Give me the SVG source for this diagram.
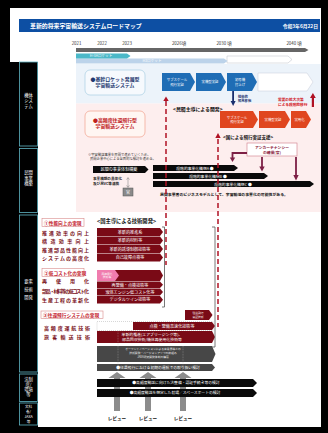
<svg xmlns="http://www.w3.org/2000/svg" width="328" height="433" viewBox="0 0 328 433">
  <style>
    text { font-family: "Noto Sans CJK JP", "Noto Sans", sans-serif; }
    .w { fill: #fff; }
    .b { font-weight: bold; }
    .lbl { fill: #fff; font-size: 4.3px; text-anchor: middle; }
    .lbox { fill: #000; stroke: #5fb3c2; stroke-width: 0.8; }
    .blue { fill: #1f6db5; }
    .red { fill: #e0461f; }
    .dred { fill: #7a0a16; }
    .gray { fill: #474747; }
    .blk { fill: #0a0a0a; }
    .chev { fill: #fff; font-size: 3.4px; text-anchor: middle; }
    .bar { fill: #fff; font-size: 4.1px; text-anchor: middle; }
    .row { fill: #7a1020; font-size: 5px; font-weight: bold; }
    .tag { fill: #fff; stroke: #d98a8a; stroke-width: 0.6; }
    .tagt { fill: #c4202c; font-size: 4.7px; font-weight: bold; }
    .dash { fill: none; stroke: #b01224; stroke-width: 1.5; stroke-dasharray: 5 3; }
    .brk { fill: none; stroke: #555; stroke-width: 0.8; }
    .mar { fill: #7d1f45; }
    .up { fill: #8c8c8c; }
  </style>

  <!-- frame and page -->
  <rect x="0" y="0" width="328" height="433" fill="#000"/>
  <rect x="10" y="8" width="311" height="419" fill="#fff"/>
  <rect x="10" y="62" width="28" height="365" fill="#000"/>

  <!-- title bar -->
  <g id="header">
    <rect x="19" y="19" width="301" height="13" fill="#0d4fa3"/>
    <text x="30" y="28.3" class="w b" font-size="5.9">革新的将来宇宙輸送システムロードマップ</text>
    <text x="318" y="27.8" class="w b" font-size="4.8" text-anchor="end">令和3年6月22日</text>
  </g>

  <!-- years and timeline -->
  <g id="timeline" font-size="4.4" fill="#333" text-anchor="middle">
    <text x="76.5" y="45">2021</text>
    <text x="102" y="45">2022</text>
    <text x="127" y="45">2023</text>
    <text x="179" y="45">2026頃</text>
    <text x="224" y="45">2030 頃</text>
    <text x="294" y="45">2040 頃</text>
    <polygon points="76,48 305,48 308.5,50 305,52 76,52" fill="#666"/>
  </g>

  <!-- launcher bars -->
  <g id="launchers">
    <polygon points="227,56 288,56 292,59.5 288,63 227,63" fill="#fff" stroke="#b8bcc6" stroke-width="0.5"/>
    <polygon points="76,58.5 224,58.5 227.5,61 224,63.5 76,63.5" fill="#bcd3ea"/>
    <text x="152" y="62.3" class="w" font-size="3.6" text-anchor="middle">H3ロケット</text>
    <polygon points="76,53.5 127,53.5 130.5,56 127,58.5 76,58.5" fill="#4bb8c8"/>
    <text x="101" y="57.3" class="w" font-size="3.6" text-anchor="middle">H-IIAロケット</text>
  </g>

  <!-- section backgrounds -->
  <rect x="76" y="64" width="245" height="39.5" fill="#ecf3fa"/>
  <rect x="76" y="103.5" width="245" height="108.5" fill="#fdeeee"/>

  <!-- side labels -->
  <g id="label-vehicle">
    <rect x="19.5" y="62" width="18" height="84" class="lbox"/>
    <text class="lbl"><tspan x="28.5" y="96.5">機体</tspan><tspan x="28.5" y="102">シス</tspan><tspan x="28.5" y="107.5">テム</tspan></text>
  </g>
  <g id="label-business">
    <rect x="19.5" y="148.5" width="18" height="64" class="lbox"/>
    <text class="lbl"><tspan x="28.5" y="174">民間</tspan><tspan x="28.5" y="179.5">事業</tspan><tspan x="28.5" y="185">構築</tspan></text>
  </g>
  <g id="label-tech">
    <rect x="19.5" y="215" width="18" height="157" class="lbox"/>
    <text class="lbl"><tspan x="28.5" y="283">要素</tspan><tspan x="28.5" y="291">技術</tspan><tspan x="28.5" y="299">開発</tspan></text>
  </g>
  <g id="label-law">
    <rect x="19.5" y="374" width="18" height="27.5" class="lbox"/>
    <text class="lbl" font-size="4"><tspan x="28.5" y="381">法制</tspan><tspan x="28.5" y="386">度/</tspan><tspan x="28.5" y="391">環境</tspan><tspan x="28.5" y="396">等</tspan></text>
  </g>
  <g id="label-mext">
    <rect x="19.5" y="403" width="18" height="22" class="lbox"/>
    <text class="lbl" style="font-size:3.6px"><tspan x="28.5" y="408">文科</tspan><tspan x="28.5" y="413">省/</tspan><tspan x="28.5" y="418">JAXA</tspan><tspan x="28.5" y="423">等</tspan></text>
  </g>

  <!-- vehicle system concepts -->
  <g id="concept-expendable">
    <rect x="85" y="70" width="60" height="25" rx="5" fill="#f6f9fd" stroke="#a9cfe2" stroke-width="0.7"/>
    <text fill="#1f3870" font-size="4.9" class="b" text-anchor="middle"><tspan x="115" y="80.5">●基幹ロケット発展型</tspan><tspan x="115" y="86.7">宇宙輸送システム</tspan></text>
  </g>
  <g id="concept-reusable">
    <rect x="85" y="111" width="60" height="26" rx="5" fill="#fff6f2" stroke="#f0a08c" stroke-width="0.7"/>
    <text fill="#c0201c" font-size="4.9" class="b" text-anchor="middle"><tspan x="115" y="121.7">●高頻度往還飛行型</tspan><tspan x="115" y="127.9">宇宙輸送システム</tspan></text>
  </g>

  <!-- expendable line milestones -->
  <g id="blue-steps">
    <polygon points="162,73 190,73 195,82 190,91 162,91" class="blue"/>
    <text class="chev"><tspan x="177" y="81">サブスケール</tspan><tspan x="177" y="85.5">飛行実証</tspan></text>
    <polygon points="196,73 221,73 226,82 221,91 196,91" class="blue"/>
    <text class="chev" x="210" y="83.3">実機型実証</text>
    <polygon points="227,73 252,73 257,82 252,91 227,91" class="blue"/>
    <text class="chev"><tspan x="240" y="81">初号機</tspan><tspan x="240" y="85.5">打上げ</tspan></text>
    <polygon points="258,73 307,73 313,82 307,91 258,91" fill="#fff" stroke="#c6cbd8" stroke-width="0.5"/>
  </g>

  <!-- reusable line milestones -->
  <g id="red-steps">
    <polygon points="220,111 253,111 258,119.5 253,128 220,128" class="red"/>
    <text class="chev"><tspan x="237" y="118.5">サブスケール</tspan><tspan x="237" y="123">飛行実証</tspan></text>
    <polygon points="259,111 285,111 290,119.5 285,128 259,128" class="red"/>
    <text class="chev" x="273" y="120.8">実機型実証</text>
    <polygon points="291,111 306,111 311,119.5 306,128 291,128" class="red"/>
    <text class="chev" x="299.5" y="120.8">実用化</text>
  </g>

  <g id="notes-vehicle">
    <text x="173" y="110.5" class="b" font-size="4.9" fill="#111">&lt;民間主導による開発&gt;</text>
    <text x="223" y="138.5" class="b" font-size="4.5" fill="#111">&lt;国による飛行実証支援&gt;</text>
    <text class="b" font-size="3.7" fill="#d01020"><tspan x="278" y="100.5">需要の拡大次第</tspan><tspan x="278" y="105.5">による段階的移行</tspan></text>
    <text class="b" font-size="3.3" fill="#1a2f6e"><tspan x="238" y="97.5">技術的</tspan><tspan x="238" y="101.8">知見移転</tspan></text>
  </g>

  <!-- business building -->
  <g id="business">
    <text font-size="3.3" fill="#333"><tspan x="88" y="155.5">※宇宙輸送事業を民間で進めていくため、</tspan><tspan x="90" y="159.5">民間企業中心による全面的な検討を進める。</tspan></text>
    <polygon points="93,166 145,166 148.5,169.5 145,173 93,173" class="blk"/>
    <text x="119" y="171" class="bar">民間の事業体制構築</text>
    <text class="b" font-size="3.6" fill="#111"><tspan x="93" y="180">事業構想の具体化</tspan><tspan x="93" y="184.5">及び民VC等連携</tspan></text>
    <path d="M128,178 V187 M126.6,179.6 L128,177.5 L129.4,179.6 M126.6,185.4 L128,187.5 L129.4,185.4" fill="none" stroke="#777" stroke-width="0.5"/>
    <rect x="123" y="188" width="10" height="8" fill="#8a8a8a" stroke="#555" stroke-width="0.5"/>
    <text x="128" y="193.6" class="w" font-size="4" text-anchor="middle">官</text>
    <polygon points="153,165 234,165 238,168 234,171 153,171" class="blk"/>
    <text x="195" y="169.5" class="bar" style="font-size:3.8px">段階的事業化構想A ●</text>
    <polygon points="153,173 264,173 268,176 264,179 153,179" class="blk"/>
    <text x="208" y="177.5" class="bar" style="font-size:3.8px">段階的事業化構想B ●</text>
    <polygon points="153,181 310,181 314,184 310,187 153,187" class="blk"/>
    <text x="233" y="185.5" class="bar" style="font-size:3.8px">段階的事業化構想C ●</text>
    <text x="160" y="196" class="b" font-size="3.9" fill="#111" textLength="128" lengthAdjust="spacingAndGlyphs">民間事業者のビジネスモデルとして、宇宙輸送の事業化の可能性がある。</text>
  </g>

  <g id="anchor-tenancy">
    <rect x="247" y="143" width="50" height="13" fill="#fff" stroke="#d07a88" stroke-width="0.6"/>
    <text class="b" font-size="3.8" fill="#8b1a3c" text-anchor="middle"><tspan x="272" y="148.8">アンカーテナンシー</tspan><tspan x="272" y="153.6">の確保(官)</tspan></text>
  </g>

  <!-- technology development -->
  <g id="tech-performance">
    <text x="97" y="222.5" class="b" font-size="5.3" fill="#111">&lt;国主導による技術開発&gt;</text>
    <rect x="42" y="218.5" width="42" height="8" class="tag"/>
    <text x="44" y="224.5" class="tagt">①性能向上の実現</text>
    <text class="row" x="42" y="235" textLength="47" lengthAdjust="spacing">推進効率の向上</text>
    <text class="row" x="42" y="243.3" textLength="47" lengthAdjust="spacing">構造効率向上</text>
    <text class="row" x="42" y="251.6" textLength="47" lengthAdjust="spacing">推進部品性能向上</text>
    <text class="row" x="42" y="260" textLength="47" lengthAdjust="spacing">システムの高度化</text>
    <polygon points="97,228 160,228 163,232 160,236 97,236" class="dred"/>
    <text x="130" y="233.5" class="bar">革新的推進系</text>
    <polygon points="97,236.5 160,236.5 163,240.5 160,244.5 97,244.5" class="dred"/>
    <text x="130" y="242" class="bar">革新的材料等</text>
    <polygon points="97,245 160,245 163,249 160,253 97,253" class="dred"/>
    <text x="130" y="250.5" class="bar">革新的誘導制御技術等</text>
    <polygon points="97,253.5 160,253.5 163,257.5 160,261.5 97,261.5" class="dred"/>
    <text x="130" y="259" class="bar">自己故障点検等</text>
  </g>

  <g id="tech-cost">
    <rect x="42" y="268.5" width="42" height="8" class="tag"/>
    <text x="44" y="274.5" class="tagt">②低コスト化の実現</text>
    <text class="row" x="42" y="283" textLength="47" lengthAdjust="spacing">再使用化</text>
    <text class="row" x="42" y="293" textLength="47" lengthAdjust="spacing">部品・材料等の低コスト化</text>
    <text class="row" x="42" y="302" textLength="47" lengthAdjust="spacing">生産工程の革新化</text>
    <polygon points="97,270 160,270 163,275.5 160,281 97,281" class="dred"/>
    <polygon points="97,270 115,270 119,275.5 115,281 97,281" fill="#f07cae"/>
    <text font-size="2.8" fill="#fff" text-anchor="middle"><tspan x="107" y="274.5">再使用化</tspan><tspan x="107" y="278.3">技術等</tspan></text>
    <polygon points="97,281.5 160,281.5 163,284.8 160,288 97,288" class="dred"/>
    <text x="130" y="286.5" class="bar">再整備・点検技術等</text>
    <polygon points="97,288.5 160,288.5 163,292 160,295.5 97,295.5" class="dred"/>
    <text x="130" y="293.8" class="bar">液体エンジン低コスト化等</text>
    <polygon points="97,296 160,296 163,299.7 160,303.5 97,303.5" class="dred"/>
    <text x="130" y="301.3" class="bar">デジタルツイン技術等</text>
  </g>

  <g id="tech-reentry">
    <rect x="41" y="311" width="62" height="7.5" class="tag"/>
    <text x="43" y="316.6" class="tagt">③往還飛行システムの実現</text>
    <text class="row" x="44" y="330" textLength="46" lengthAdjust="spacing">高頻度運航技術</text>
    <text class="row" x="44" y="339" textLength="46" lengthAdjust="spacing">旅客輸送技術</text>
    <polygon points="185,310 209,310 212.5,315 209,320 185,320" class="dred"/>
    <text font-size="2.8" fill="#fff" text-anchor="middle"><tspan x="198" y="314.3">往還飛行</tspan><tspan x="198" y="318">実証技術</tspan></text>
    <rect x="97" y="321.5" width="116" height="9" fill="none" stroke="#999" stroke-width="0.4" stroke-dasharray="1 1"/>
    <polygon points="133,322 212,322 215,326 212,330 133,330" class="dred"/>
    <text x="172" y="327.5" class="bar">点検・整備高速化技術等</text>
    <polygon points="97,331 212,331 215,337 212,343 97,343" class="dred"/>
    <text class="bar" style="font-size:3.9px"><tspan x="152" y="336.2">革新的推進(エアブリージング等)、</tspan><tspan x="152" y="341">部品回収技術/機体再使用化技術等</tspan></text>
    <polygon points="97,346 212,346 215.5,354 212,362 97,362" class="gray"/>
    <text font-size="2.8" fill="#e6e6e6" text-anchor="middle"><tspan x="153" y="350">オープンイノベーションによる産業界等との</tspan><tspan x="153" y="354.2">技術開発・バージョンアップの枠組み</tspan><tspan x="153" y="358.4">JAXA研究開発体制の構築</tspan></text>
    <polygon points="97,364 212,364 215,367.5 212,371 97,371" class="gray"/>
    <text x="158" y="369.2" class="bar" style="font-size:3.8px">●往還飛行における初期の運航での取り扱い検討</text>
    <path d="M118,330 V371 M183,346 V371" stroke="#bdbdbd" stroke-width="0.4" stroke-dasharray="0.8 0.8"/>
  </g>

  <!-- review points (drawn beneath the planning bars) -->
  <g id="reviews">
    <polygon points="114,411 114,378 108.5,378 117,372 125.5,378 120,378 120,411" class="up"/>
    <polygon points="145,411 145,378 139.5,378 148,372 156.5,378 151,378 151,411" class="up"/>
    <polygon points="180,411 180,378 174.5,378 183,372 191.5,378 186,378 186,411" class="up"/>
    <g class="b" font-size="4.6" fill="#111" text-anchor="middle">
      <text x="117" y="419.5">レビュー</text>
      <text x="148" y="419.5">レビュー</text>
      <text x="183" y="419.5">レビュー</text>
    </g>
  </g>

  <!-- law and infrastructure -->
  <g id="infrastructure">
    <polygon points="97,379 253,379 257,383 253,387 97,387" class="blk"/>
    <text x="176" y="384.4" class="bar" style="font-size:3.8px">●高頻度輸送に向けた法整備・認証手続き等の検討</text>
    <polygon points="97,389 253,389 257,393 253,397 97,397" class="blk"/>
    <text x="175" y="394.4" class="bar" style="font-size:3.8px">●高頻度輸送を想定した射場／スペースポートの検討</text>
  </g>

  <!-- connectors -->
  <g id="connectors">
    <path d="M166,101 V265" class="dash"/>
    <polygon points="163.3,101 166,96.5 168.7,101" fill="#b01224"/>
    <path d="M218,139 V327" class="dash"/>
    <polygon points="215.3,138 218,133 220.7,138" fill="#b01224"/>
    <rect x="311.8" y="97" width="2.2" height="10" fill="#b01224"/>
    <polygon points="310,98 312.9,93 315.8,98" fill="#b01224"/>
    <rect x="232.2" y="91" width="1.8" height="10" fill="#1a2f6e"/>
    <polygon points="230.6,101 233.1,106 235.6,101" fill="#1a2f6e"/>
    <path d="M247,153 H232.5 V158" fill="none" stroke="#7d1f45" stroke-width="1.8"/>
    <polygon points="229.8,157.5 232.5,162 235.2,157.5" class="mar"/>
    <rect x="261.1" y="157" width="1.8" height="10" class="mar"/>
    <polygon points="259.3,166.5 262,171.5 264.7,166.5" class="mar"/>
    <rect x="295.1" y="157" width="1.8" height="18" class="mar"/>
    <polygon points="293.3,175 296,180.5 298.7,175" class="mar"/>
    <path d="M162,227 H164.5 V307 H162" class="brk"/>
    <path d="M212,227 H215 V347 H212" class="brk"/>
  </g>
</svg>
